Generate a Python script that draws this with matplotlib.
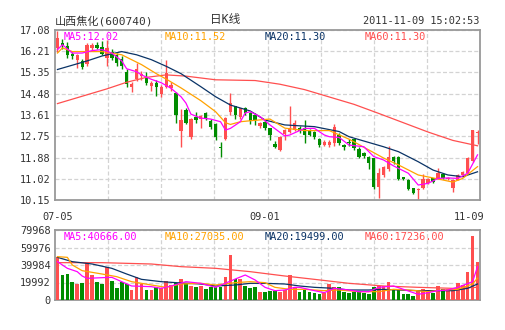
import matplotlib
matplotlib.use("Agg")
import matplotlib.pyplot as plt
import numpy as np

plt.rcParams['font.family'] = ['DejaVu Sans Mono', 'Noto Sans CJK SC']

# ---------------- data ----------------
opens = [16.35,16.55,16.42,16.10,15.87,15.83,15.69,16.35,16.48,16.38,
         15.94,16.20,16.07,15.90,15.38,14.76,15.10,15.20,15.18,14.80,
         14.91,14.46,14.75,14.70,14.50,12.98,13.82,12.73,13.55,13.45,
         13.68,13.38,13.25,12.30,12.65,13.75,13.98,13.55,13.90,13.68,
         13.62,13.15,13.34,13.08,12.45,12.18,12.84,12.94,13.00,13.08,
         13.08,13.00,12.94,12.63,12.39,12.38,12.47,12.82,12.40,12.50,
         12.62,12.22,12.06,11.92,11.85,10.70,11.17,11.40,11.92,11.90,
         11.07,10.97,10.62,10.55,10.63,10.86,11.03,11.03,11.20,11.00,
         10.64,10.97,11.17,11.24,11.75,12.90]
highs = [17.05,16.70,16.60,16.20,16.10,15.90,16.55,16.55,16.60,16.65,
         16.67,16.30,16.15,16.00,15.50,14.95,15.72,15.42,15.38,15.00,
         15.05,14.85,15.85,14.95,14.55,13.86,13.90,13.50,13.75,13.62,
         13.72,13.45,13.30,12.50,13.55,14.52,14.00,13.92,13.95,13.75,
         13.70,13.35,13.40,13.10,12.55,12.75,13.03,13.98,13.40,13.15,
         13.41,13.05,12.98,12.68,12.58,12.60,13.25,12.90,12.45,12.62,
         12.65,12.30,12.10,11.95,11.88,11.45,11.55,12.35,11.95,11.95,
         11.10,11.00,10.65,10.65,11.20,11.05,11.05,11.45,11.25,11.10,
         11.00,11.20,11.35,11.90,13.02,13.00]
lows = [16.20,16.30,15.95,15.90,15.53,15.50,15.60,16.25,16.30,16.05,
        15.61,15.85,15.60,15.50,14.75,14.57,15.00,15.05,14.82,14.60,
        14.38,14.35,14.70,14.60,13.30,12.32,13.25,12.65,13.30,13.10,
        13.40,13.05,12.60,11.90,12.60,13.60,13.45,13.45,13.60,13.25,
        13.20,13.10,13.00,12.60,12.26,12.15,12.60,12.90,12.95,12.90,
        12.49,12.75,12.65,12.30,12.35,12.32,12.35,12.40,12.20,12.35,
        12.20,11.85,11.85,11.40,10.60,10.25,11.10,11.35,11.60,10.95,
        10.95,10.55,10.40,10.15,10.60,10.80,10.85,11.00,11.00,10.95,
        10.48,10.95,11.15,11.20,11.70,12.45]
closes = [16.75,16.48,16.07,16.00,16.07,15.56,16.48,16.48,16.35,16.10,
          16.35,15.95,15.73,15.60,14.88,14.88,15.48,15.30,14.90,14.93,
          14.75,14.77,15.34,14.85,13.62,13.41,13.30,13.45,13.40,13.57,
          13.45,13.12,12.70,12.27,13.48,14.09,13.62,13.88,13.70,13.38,
          13.40,13.28,13.07,12.78,12.30,12.73,13.00,13.07,13.30,12.96,
          12.82,12.80,12.73,12.39,12.50,12.53,13.14,12.48,12.30,12.48,
          12.26,11.92,11.95,11.66,10.70,11.24,11.50,11.92,11.72,11.00,
          11.00,10.60,10.42,10.60,11.02,10.99,10.90,11.24,11.05,11.03,
          10.96,11.17,11.30,11.85,13.00,12.92]
volumes = [49500,28560,29700,20900,18280,19800,42650,28560,20900,18280,
           38080,22090,14090,20900,18280,11420,25900,18280,11420,11420,
           14470,13330,22090,17140,19800,23990,19800,16000,14470,16000,
           12570,14470,14470,14470,25900,51400,24000,24000,16000,13330,
           14470,9140,9140,10660,10660,9520,11420,28560,14470,9140,
           11420,9140,7620,6850,7620,18280,14470,14470,9520,8380,
           9520,9520,7620,6470,14470,16000,16000,20940,12190,11420,
           6470,6470,4570,11420,12190,11420,8380,16000,12190,12190,
           12190,19040,17140,32370,73110,43800]

# moving-average lines: (candle index, value)
ma5_pts = [(0,16.28),(1,16.48),(3,16.14),(5,16.14),(7,16.24),(9,16.28),(11,16.14),
           (13,15.82),(14,15.50),(16,15.38),(17,15.25),(19,15.07),(21,14.93),(23,14.70),
           (25,14.36),(26,14.10),(27,13.65),(29,13.49),(31,13.45),(33,13.34),(34,13.00),
           (35,13.07),(37,13.34),(38,13.70),(39,13.75),(41,13.55),(43,13.21),(46,12.76),
           (47,12.80),(50,13.07),(52,13.07),(54,12.80),(55,12.73),(57,12.70),(59,12.39),
           (62,12.32),(64,11.92),(66,11.78),(68,11.54),(71,11.24),(73,10.76),(75,10.83),
           (77,11.03),(79,11.05),(81,11.03),(83,11.24),(85,11.99)]
ma10_pts = [(0,16.14),(1,16.35),(3,16.20),(6,16.20),(9,16.20),(13,16.07),(15,15.87),
            (17,15.67),(20,15.30),(22,15.08),(25,14.72),(29,14.20),(32,13.75),(34,13.30),
            (35,13.23),(37,13.34),(39,13.38),(43,13.45),(46,13.08),(50,12.98),(55,12.98),
            (59,12.63),(63,12.19),(66,11.86),(69,11.58),(73,11.17),(76,11.05),(80,10.88),
            (82,11.03),(85,11.51)]
ma20_pts = [(0,15.47),(6,15.82),(9,16.02),(13,16.20),(16,16.07),(19,15.87),(22,15.60),
            (25,15.30),(29,14.77),(32,14.36),(35,14.02),(39,13.78),(42,13.41),(46,13.21),
            (52,13.14),(57,12.94),(59,12.73),(66,12.32),(69,12.12),(73,11.71),(76,11.37),
            (79,11.17),(82,11.10),(85,11.30)]
ma60_pts = [(0,14.08),(5,14.38),(10,14.68),(14,14.95),(18,15.15),(22,15.25),(26,15.20),
            (32,15.05),(40,15.02),(45,14.87),(50,14.65),(55,14.35),(60,14.05),(65,13.68),
            (70,13.30),(75,12.92),(80,12.58),(85,12.36)]

vma5_pts = [(0,43800),(2,36180),(4,32370),(5,27400),(6,24750),(9,25500),(11,25900),
            (13,20940),(15,16000),(19,15230),(21,13330),(23,16000),(26,20940),(29,19040),
            (32,14470),(36,24000),(38,28560),(40,22850),(42,14470),(44,10660),(46,11420),
            (48,14470),(49,14470),(52,10660),(54,8380),(56,13330),(59,11420),(61,9520),
            (63,9520),(65,14470),(68,16000),(70,12190),(73,6470),(75,8380),(77,10660),
            (79,11420),(81,14470),(84,20940),(85,38000)]
vma10_pts = [(0,49500),(2,48740),(3,40000),(5,33500),(9,29700),(12,26650),(15,20940),
             (19,17140),(22,14470),(25,18280),(29,19040),(32,17140),(36,19800),(39,20940),
             (42,19800),(44,14470),(47,12190),(50,12190),(54,10660),(57,11420),(61,9520),
             (65,9520),(68,12190),(71,11420),(75,9520),(78,11420),(81,12190),(84,18280),
             (85,25000)]
vma20_pts = [(0,48740),(3,43800),(7,41130),(11,36180),(14,29700),(17,23600),(21,20940),
             (24,19800),(29,18280),(32,16000),(36,17140),(39,19040),(42,19040),(46,18280),
             (49,16000),(52,14470),(56,13330),(59,11420),(63,11420),(66,12190),(69,11420),
             (73,10660),(76,10660),(80,10660),(83,13330),(85,18280)]
vma60_pts = [(0,42650),(9,42650),(19,41130),(25,38080),(32,36180),(39,32370),(46,27420),
             (52,23600),(59,19040),(66,16000),(73,14470),(80,13330),(85,14470)]

price_ticks = [10.15, 11.02, 11.88, 12.75, 13.61, 14.48, 15.35, 16.21, 17.08]
vol_ticks = [0, 19992, 39984, 59976, 79968]
vol_tick_labels = ['0', '19992', '39984', '59976', '79968']
date_labels = ['07-05', '09-01', '11-09']
date_index = [0, 42, 85]

title = '山西焦化(600740)'
subtitle = '日K线'
timestamp = '2011-11-09 15:02:53'
ma_labels = ['MA5:12.02', 'MA10:11.52', 'MA20:11.30', 'MA60:11.30']
vma_labels = ['MA5:40666.00', 'MA10:27035.00', 'MA20:19499.00', 'MA60:17236.00']

# ---------------- style ----------------
RED = '#FF4F4F'
GREEN = '#008C00'
C_MA5 = '#FF00FF'
C_MA10 = '#FFA200'
C_MA20 = '#0A3366'
C_MA60 = '#FF4F4F'
FRAME = '#999999'
GRID = '#D3D3D3'
TXT = '#333333'
FS = 7.4

fig = plt.figure(figsize=(5.05, 3.30), dpi=100)
fig.patch.set_facecolor('white')
W, H = 505, 330
ax = fig.add_axes([55 / W, 130 / H, 425 / W, 170 / H])
axv = fig.add_axes([55 / W, 30 / H, 425 / W, 70 / H])

n = len(closes)
x = np.arange(n)
o = np.array(opens); c = np.array(closes)
hi = np.array(highs); lo = np.array(lows)
up = c >= o
cols = np.where(up, RED, GREEN)

xgrid = np.linspace(-0.5, n - 0.5, 9)[1:-1]

for a in (ax, axv):
    a.set_xlim(-0.5, n - 0.5)
    for s in a.spines.values():
        s.set_color(FRAME)
        s.set_linewidth(1.3)
    a.set_xticks(xgrid)
    a.set_xticklabels([])
    a.tick_params(length=0, labelsize=FS, colors=TXT, pad=3)
    a.grid(True, color=GRID, linestyle=(0, (3.2, 1.8)), linewidth=0.9)
    a.set_axisbelow(True)

# candles
ax.vlines(x, lo, hi, colors=cols, linewidth=1.0, zorder=2)
body_h = np.maximum(np.abs(c - o), 0.03)
ax.bar(x, body_h, bottom=np.minimum(o, c), width=0.68, color=cols, linewidth=0, zorder=3)

def draw_pts(a, pts, color):
    px = [p[0] for p in pts]
    py = [p[1] for p in pts]
    a.plot(px, py, color=color, linewidth=0.9, zorder=4)

draw_pts(ax, ma60_pts, C_MA60)
draw_pts(ax, ma20_pts, C_MA20)
draw_pts(ax, ma10_pts, C_MA10)
draw_pts(ax, ma5_pts, C_MA5)

ax.set_ylim(price_ticks[0], price_ticks[-1])
ax.set_yticks(price_ticks)
ax.set_yticklabels(['%.2f' % v for v in price_ticks])

# volume
axv.bar(x, volumes, width=0.75, color=cols, linewidth=0, zorder=3)
draw_pts(axv, vma60_pts, C_MA60)
draw_pts(axv, vma20_pts, C_MA20)
draw_pts(axv, vma10_pts, C_MA10)
draw_pts(axv, vma5_pts, C_MA5)
axv.set_ylim(vol_ticks[0], vol_ticks[-1])
axv.set_yticks(vol_ticks)
axv.set_yticklabels(vol_tick_labels)

# date labels
for lab, idx in zip(date_labels, date_index):
    ha = 'center'
    xx = idx
    if idx == n - 1:
        ha = 'right'
        xx = n - 1 + 1.3
    ax.text(xx, -0.1, lab, transform=ax.get_xaxis_transform(), ha=ha, va='center',
            fontsize=FS, color=TXT)

# header texts
fig.text(55 / W, 1 - 21 / H, title, ha='left', va='center', fontsize=8.0, color=TXT)
fig.text(225 / W, 1 - 20 / H, subtitle, ha='center', va='center', fontsize=8.4, color=TXT)
fig.text(479 / W, 1 - 21 / H, timestamp, ha='right', va='center', fontsize=FS, color=TXT)

lab_x = [64, 165, 265, 365]
for lx, lab, col in zip(lab_x, ma_labels, [C_MA5, C_MA10, C_MA20, C_MA60]):
    fig.text(lx / W, 1 - 36.5 / H, lab, ha='left', va='center', fontsize=FS, color=col)
for lx, lab, col in zip(lab_x, vma_labels, [C_MA5, C_MA10, C_MA20, C_MA60]):
    fig.text(lx / W, 1 - 237 / H, lab, ha='left', va='center', fontsize=FS, color=col)

fig.savefig('out.png', dpi=100, facecolor='white')
